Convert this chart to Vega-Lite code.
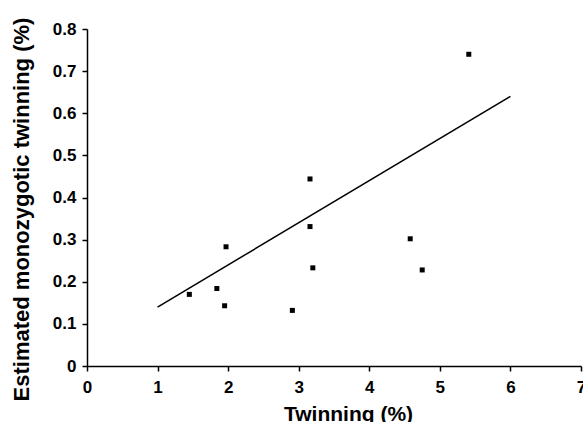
{
  "$schema": "https://vega.github.io/schema/vega-lite/v6.json",
  "width": 494,
  "height": 337,
  "autosize": {"type": "none"},
  "padding": {"left": 87, "top": 29, "right": 2, "bottom": 56},
  "background": "white",
  "config": {
    "view": {"stroke": null},
    "font": "Liberation Sans",
    "axis": {
      "grid": false,
      "domainColor": "black",
      "domainWidth": 1.5,
      "tickColor": "black",
      "tickWidth": 1.5,
      "tickSize": 5,
      "labelColor": "black",
      "labelFont": "Liberation Sans",
      "labelFontSize": 17,
      "labelFontWeight": "bold",
      "titleColor": "black",
      "titleFont": "Liberation Sans",
      "titleFontSize": 21,
      "titleFontWeight": "bold"
    }
  },
  "layer": [
    {
      "data": {
        "values": [
          {"twinning": 1.45, "mz": 0.17},
          {"twinning": 1.84, "mz": 0.184},
          {"twinning": 1.95, "mz": 0.143},
          {"twinning": 1.97, "mz": 0.283},
          {"twinning": 2.91, "mz": 0.132},
          {"twinning": 3.16, "mz": 0.331},
          {"twinning": 3.16, "mz": 0.444},
          {"twinning": 3.2, "mz": 0.233},
          {"twinning": 5.41, "mz": 0.74},
          {"twinning": 4.58, "mz": 0.302},
          {"twinning": 4.75, "mz": 0.228}
        ]
      },
      "mark": {"type": "point", "shape": "square", "filled": true, "color": "black", "size": 25, "opacity": 1},
      "encoding": {
        "x": {
          "field": "twinning",
          "type": "quantitative",
          "scale": {"domain": [0, 7], "nice": false, "zero": true},
          "axis": {
            "title": "Twinning (%)",
            "values": [0, 1, 2, 3, 4, 5, 6, 7],
            "format": "d",
            "labelPadding": 8,
            "labelFlush": false,
            "titleX": 261,
            "titleY": 54,
            "titleBaseline": "alphabetic"
          }
        },
        "y": {
          "field": "mz",
          "type": "quantitative",
          "scale": {"domain": [0, 0.8], "nice": false},
          "axis": {
            "title": "Estimated monozygotic twinning (%)",
            "values": [0, 0.1, 0.2, 0.3, 0.4, 0.5, 0.6, 0.7, 0.8],
            "labelExpr": "datum.value == 0 ? '0' : format(datum.value, '.1f')",
            "labelPadding": 6,
            "labelFlush": false,
            "titleFontSize": 22,
            "titleX": -54,
            "titleY": 180
          }
        }
      }
    },
    {
      "data": {"values": [{"twinning": 1, "mz": 0.14}, {"twinning": 6, "mz": 0.64}]},
      "mark": {"type": "line", "color": "black", "strokeWidth": 1.5},
      "encoding": {
        "x": {"field": "twinning", "type": "quantitative"},
        "y": {"field": "mz", "type": "quantitative"}
      }
    }
  ]
}
